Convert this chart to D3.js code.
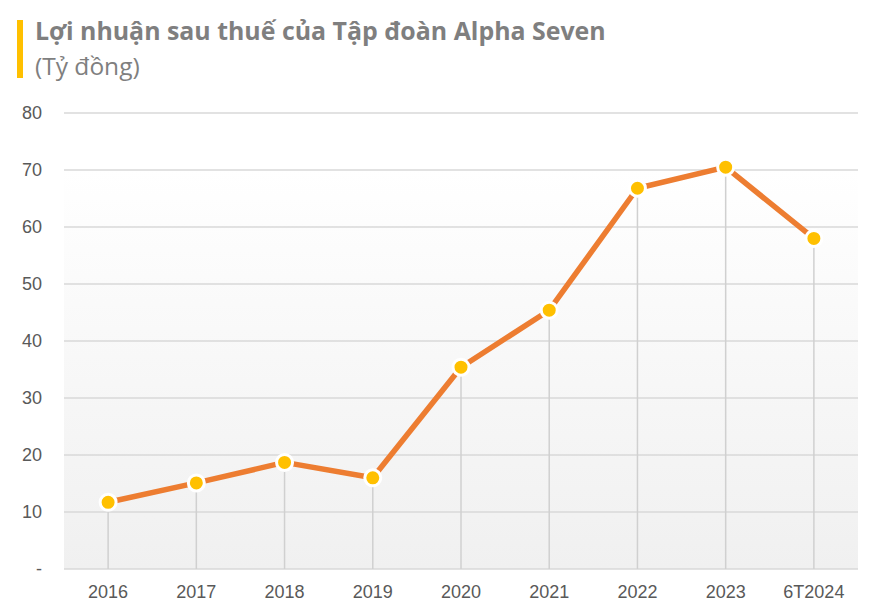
<!DOCTYPE html>
<html><head><meta charset="utf-8">
<script src="https://cdn.jsdelivr.net/npm/d3@7"></script>
<style>body{margin:0;background:#fff;} svg{display:block;}</style>
</head><body>
<svg id="chart" width="881" height="615"></svg>
<script>
const categories = ["2016","2017","2018","2019","2020","2021","2022","2023","6T2024"];
const profit = [11.7, 15.1, 18.7, 16.0, 35.4, 45.4, 66.8, 70.5, 58.0];
const yTicks = [0,10,20,30,40,50,60,70,80];
const title = "Lợi nhuận sau thuế của Tập đoàn Alpha Seven";
const subtitle = "(Tỷ đồng)";

const svg = d3.select("#chart");
const m = {left:64, right:858, top:113, bottom:569};
const x = d3.scaleBand().domain(categories).range([m.left, m.right]).padding(0);
const y = d3.scaleLinear().domain([0,80]).range([m.bottom, m.top]);
const font = "'Open Sans', 'Noto Sans', sans-serif";
const axisFont = "'Liberation Sans', Arial, sans-serif";

const defs = svg.append("defs");
const g1 = defs.append("linearGradient").attr("id","bg").attr("x1",0).attr("y1",0).attr("x2",0).attr("y2",1);
g1.append("stop").attr("offset","0%").attr("stop-color","#ffffff");
g1.append("stop").attr("offset","100%").attr("stop-color","#f0f0f0");

svg.append("rect").attr("x",m.left).attr("y",y(70)).attr("width",m.right-m.left).attr("height",m.bottom-y(70)).attr("fill","url(#bg)");

// title
svg.append("rect").attr("x",17).attr("y",20).attr("width",6).attr("height",58).attr("fill","#FFC000");
svg.append("text").attr("x",35).attr("y",40).attr("font-family",font).attr("font-size",24.9).attr("font-weight","bold").attr("fill","#7f7f7f").text(title);
svg.append("text").attr("x",35).attr("y",75).attr("font-family",font).attr("font-size",24.5).attr("fill","#7f7f7f").text(subtitle);

// grid
svg.append("g").selectAll("line").data(yTicks).join("line")
  .attr("x1",m.left).attr("x2",m.right).attr("y1",d=>y(d)).attr("y2",d=>y(d))
  .attr("stroke","#d9d9d9").attr("stroke-width",1.5);

// y labels
svg.append("g").selectAll("text").data(yTicks).join("text")
  .attr("x",42).attr("y",d=>y(d)+6).attr("text-anchor","end")
  .attr("font-family",axisFont).attr("font-size",18).attr("fill","#595959")
  .text(d=>d===0?"-":d);

// x labels
svg.append("g").selectAll("text").data(categories).join("text")
  .attr("x",d=>x(d)+x.bandwidth()/2).attr("y",598).attr("text-anchor","middle")
  .attr("font-family",axisFont).attr("font-size",18).attr("fill","#595959").text(d=>d);

const pts = categories.map((c,i)=>({c, v:profit[i]}));
// drop lines
svg.append("g").selectAll("line").data(pts).join("line")
  .attr("x1",d=>x(d.c)+x.bandwidth()/2).attr("x2",d=>x(d.c)+x.bandwidth()/2)
  .attr("y1",d=>y(d.v)).attr("y2",m.bottom)
  .attr("stroke","#d0d0d0").attr("stroke-width",1.5);

const line = d3.line().x(d=>x(d.c)+x.bandwidth()/2).y(d=>y(d.v));
svg.append("path").datum(pts).attr("d",line).attr("fill","none")
  .attr("stroke","#ED7D31").attr("stroke-width",5.5).attr("stroke-linejoin","round");

svg.append("g").selectAll("circle").data(pts).join("circle")
  .attr("cx",d=>x(d.c)+x.bandwidth()/2).attr("cy",d=>y(d.v)).attr("r",8)
  .attr("fill","#FFC000").attr("stroke","#ffffff").attr("stroke-width",3);
</script>
</body></html>
